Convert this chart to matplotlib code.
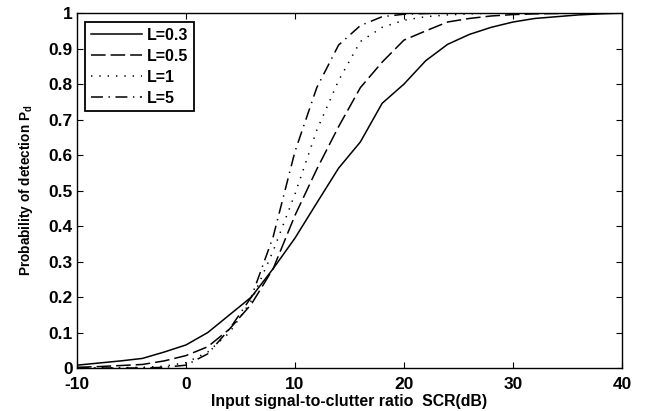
import matplotlib
matplotlib.use("Agg")
import matplotlib.pyplot as plt

plt.rcParams['font.family'] = ['Liberation Sans', 'DejaVu Sans']
plt.rcParams['font.weight'] = 'bold'
plt.rcParams['mathtext.fontset'] = 'custom'
plt.rcParams['mathtext.rm'] = 'Liberation Sans:bold'
plt.rcParams['mathtext.bf'] = 'Liberation Sans:bold'
plt.rcParams['mathtext.default'] = 'bf'
plt.rcParams['lines.scale_dashes'] = False
plt.rcParams['axes.unicode_minus'] = False

scr_db = [-10, -8, -6, -4, -2, 0, 2, 4, 6, 8, 10, 12, 14, 16, 18, 20,
          22, 24, 26, 28, 30, 32, 34, 36, 38, 40]
pd_l03 = [0.008, 0.014, 0.020, 0.027, 0.045, 0.065, 0.10, 0.15, 0.20, 0.28,
          0.366, 0.465, 0.563, 0.637, 0.746, 0.80, 0.866, 0.912, 0.94, 0.96,
          0.975, 0.985, 0.99, 0.995, 0.998, 1.0]
pd_l05 = [0.002, 0.004, 0.007, 0.010, 0.020, 0.035, 0.06, 0.11, 0.18, 0.28,
          0.43, 0.56, 0.68, 0.79, 0.862, 0.924, 0.95, 0.975, 0.985, 0.992,
          0.996, 0.998, 0.999, 1.0, 1.0, 1.0]
pd_l1 = [0.0, 0.0, 0.001, 0.002, 0.005, 0.015, 0.045, 0.10, 0.19, 0.33,
         0.49, 0.67, 0.81, 0.92, 0.96, 0.98, 0.99, 0.995, 0.998, 1.0,
         1.0, 1.0, 1.0, 1.0, 1.0, 1.0]
pd_l5 = [0.0, 0.0, 0.0, 0.0, 0.002, 0.008, 0.04, 0.11, 0.20, 0.37,
         0.61, 0.79, 0.91, 0.965, 0.99, 0.997, 0.999, 1.0, 1.0, 1.0,
         1.0, 1.0, 1.0, 1.0, 1.0, 1.0]
labels = ['L=0.3', 'L=0.5', 'L=1', 'L=5']

fig = plt.figure(figsize=(6.56, 4.11), dpi=100)
ax = fig.add_axes([0.1174, 0.1046, 0.8306, 0.8634])

lw = 1.1
ax.plot(scr_db, pd_l03, color='black', lw=lw, linestyle='-', label=labels[0])
ax.plot(scr_db, pd_l05, color='black', lw=lw, dashes=(10.5, 3.6), label=labels[1])
ax.plot(scr_db, pd_l1, color='black', lw=lw, dashes=(1.0, 5.0), label=labels[2])
ax.plot(scr_db, pd_l5, color='black', lw=lw, dashes=(8.6, 4.0, 1.0, 4.0), label=labels[3])

ax.set_xlim(-10, 40)
ax.set_ylim(0, 1)
ax.set_xticks([-10, 0, 10, 20, 30, 40])
ax.set_yticks([0, 0.1, 0.2, 0.3, 0.4, 0.5, 0.6, 0.7, 0.8, 0.9, 1])
ax.set_yticklabels(['0', '0.1', '0.2', '0.3', '0.4', '0.5', '0.6', '0.7', '0.8', '0.9', '1'])
ax.tick_params(direction='in', top=True, right=True, length=4, width=0.8,
               labelsize=12.5)
ax.tick_params(axis='x', pad=6.5)
ax.tick_params(axis='y', pad=3)
for lab in ax.get_xticklabels() + ax.get_yticklabels():
    lab.set_fontweight('bold')
for s in ax.spines.values():
    s.set_linewidth(1.0)

ax.set_xlabel('Input signal-to-clutter ratio  SCR(dB)', fontsize=11.4,
              fontweight='bold', labelpad=1.5)
ax.set_ylabel(r'Probability of detection P$_{d}$', fontsize=9.8,
              fontweight='bold', labelpad=10)

leg = ax.legend(loc='upper left', bbox_to_anchor=(0.015, 0.975), fontsize=11.5,
                handlelength=3.2, handletextpad=0.3, borderpad=0.35,
                labelspacing=0.38, fancybox=False, framealpha=1,
                edgecolor='black', borderaxespad=0)
leg.get_frame().set_linewidth(1.3)
for t in leg.get_texts():
    t.set_fontweight('bold')

fig.savefig('out.png', dpi=100)
